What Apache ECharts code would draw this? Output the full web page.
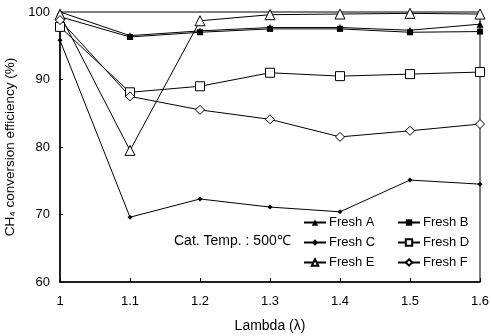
<!DOCTYPE html>
<html>
<head>
<meta charset="utf-8">
<script src="https://cdn.jsdelivr.net/npm/echarts@6/dist/echarts.min.js"></script>
<style>
  html, body { margin: 0; padding: 0; background: #fff; }
  #chart { width: 491px; height: 336px; }
</style>
</head>
<body>
<div id="chart"></div>
<script>
// lambda values on the x axis
const lambdas = [1, 1.1, 1.2, 1.3, 1.4, 1.5, 1.6];

// CH4 conversion efficiency (%) per catalyst
const freshA = [100, 96.5, 97.2, 97.7, 97.7, 97.3, 98.2];
const freshB = [99.3, 96.3, 97.0, 97.5, 97.5, 97.0, 97.1];
const freshC = [95.8, 69.6, 72.3, 71.1, 70.4, 75.1, 74.5];
const freshD = [97.8, 88.1, 89.0, 91.0, 90.5, 90.8, 91.1];
const freshE = [99.6, 79.5, 98.7, 99.6, 99.7, 99.8, 99.7];
const freshF = [98.8, 87.5, 85.5, 84.1, 81.5, 82.4, 83.4];

const FONT = 'Liberation Sans, Arial, sans-serif';

document.addEventListener('DOMContentLoaded', () => {
  const chart = echarts.init(document.getElementById('chart'), null, { renderer: 'canvas' });

  function pairs(values) {
    return values.map((v, i) => [lambdas[i], v]);
  }

  function makeSeries(name, values, symbol, size, filled) {
    return {
      name: name,
      type: 'line',
      data: pairs(values),
      symbol: symbol,
      symbolSize: size,
      showSymbol: true,
      lineStyle: { color: '#000', width: 1 },
      itemStyle: filled
        ? { color: '#000', borderColor: '#000', borderWidth: 0 }
        : { color: '#fff', borderColor: '#000', borderWidth: 1 },
      emphasis: { disabled: true },
      animation: false
    };
  }

  const legendCommon = {
    orient: 'vertical',
    itemWidth: 22,
    itemHeight: 8,
    itemGap: 7,
    textStyle: { fontFamily: FONT, fontSize: 13, color: '#000', padding: [0, 0, 0, -2] },
    selectedMode: false
  };

  chart.setOption({
    backgroundColor: '#fff',
    animation: false,
    grid: {
      left: 60, right: 11, top: 12, bottom: 54,
      containLabel: false,
      outerBoundsMode: 'none',
      show: true, borderColor: '#000', borderWidth: 1
    },
    legend: [
      Object.assign({ left: 298, top: 211, data: ['Fresh A', 'Fresh C', 'Fresh E'] }, legendCommon),
      Object.assign({ left: 392, top: 211, data: ['Fresh B', 'Fresh D', 'Fresh F'] }, legendCommon)
    ],
    graphic: [{
      type: 'text',
      left: 174,
      top: 234,
      style: { text: 'Cat. Temp. : 500\u2103', fontFamily: FONT, fontSize: 14, fill: '#000' }
    }],
    xAxis: {
      type: 'value',
      min: 1, max: 1.6, interval: 0.1,
      name: 'Lambda (\u03bb)',
      nameLocation: 'middle',
      nameGap: 37,
      nameTextStyle: { fontFamily: FONT, fontSize: 14, color: '#000' },
      axisLine: { lineStyle: { color: '#000', width: 1.5 } },
      axisTick: { inside: true, length: 4, lineStyle: { color: '#000' } },
      axisLabel: {
        fontFamily: FONT, fontSize: 13, color: '#000', margin: 13,
        formatter: v => (Math.abs(v - 1) < 1e-9 ? '1' : v.toFixed(1))
      },
      splitLine: { show: false }
    },
    yAxis: {
      type: 'value',
      min: 60, max: 100, interval: 10,
      name: 'CH\u2084 conversion efficiency (%)',
      nameLocation: 'middle',
      nameGap: 41,
      nameTextStyle: { fontFamily: FONT, fontSize: 13.5, color: '#000' },
      axisLine: { show: true, lineStyle: { color: '#000', width: 1.5 } },
      axisTick: { show: true, inside: true, length: 3, lineStyle: { color: '#000' } },
      axisLabel: { fontFamily: FONT, fontSize: 13, color: '#000', margin: 10 },
      splitLine: { show: false }
    },
    series: [
      makeSeries('Fresh A', freshA, 'triangle', 7, true),
      makeSeries('Fresh B', freshB, 'rect', 6, true),
      makeSeries('Fresh C', freshC, 'diamond', 5, true),
      makeSeries('Fresh D', freshD, 'rect', 9, false),
      makeSeries('Fresh E', freshE, 'triangle', 10, false),
      makeSeries('Fresh F', freshF, 'diamond', 9, false)
    ]
  });

  window.addEventListener('resize', () => chart.resize());
});
</script>
</body>
</html>
